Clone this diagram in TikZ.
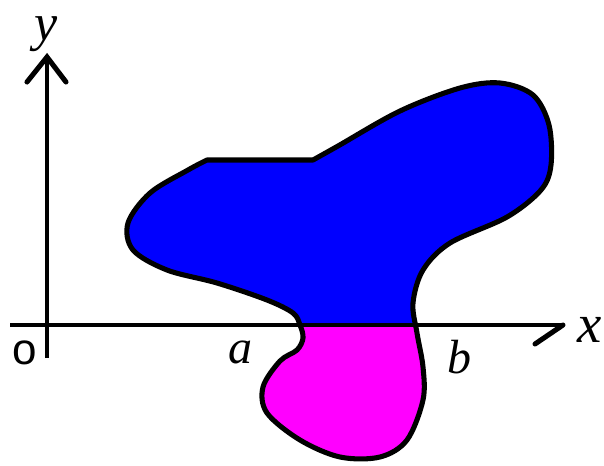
\documentclass[tikz,border=0pt]{standalone}
\usepackage{fontspec}
\setmainfont{Liberation Serif}
\newfontfamily\osans{Liberation Sans}
\definecolor{pureblue}{RGB}{0,0,255}
\definecolor{puremagenta}{RGB}{255,0,255}
\begin{document}
\begin{tikzpicture}[x=0.75pt,y=-0.75pt,
  blob/.style={insert path={plot[smooth,tension=0.55] coordinates{
    (313,160) (338,146) (400,111) (460,88) (500,83) (533,95) (549,125) (551,165)
    (541,190) (507,217) (450,243) (423,270) (413,303) (417,333) (423,367) (423,400)
    (407,440) (380,457) (340,457) (300,440) (267,413) (263,387) (280,361) (297,350)
    (303,338) (300,325) (293,313) (267,300) (217,283) (167,270) (133,250) (128,223)
    (150,193) (188,170) (207,160)} -- cycle}},
  axisline/.style={line width=2.4pt},
  barb/.style={line width=3.8pt,line cap=round},
  biglbl/.style={inner sep=0pt,font=\fontsize{41}{48}\selectfont\itshape},
  midlbl/.style={inner sep=0pt,font=\fontsize{36}{42}\selectfont\itshape}]
\useasboundingbox (0,0) rectangle (604,465);
\begin{scope}
  \clip (0,0) rectangle (604,325);
  \fill[pureblue,blob];
\end{scope}
\begin{scope}
  \clip (0,325) rectangle (604,465);
  \fill[puremagenta,blob];
\end{scope}
\draw[line width=3.8pt,line join=round,blob];
% axes
\coordinate (xs) at (10,325);
\coordinate (xe) at (563,325);
\coordinate (xb) at (535,344);
\coordinate (ys) at (47,358);
\coordinate (ye) at (47,57);
\coordinate (yl) at (27,82);
\coordinate (yr) at (66,82);
\draw[axisline] (xs) -- (xe);
\draw[axisline] (ys) -- (ye);
\draw[barb] (xe) -- (xb);
\draw[barb,line join=miter] (yl) -- (ye) -- (yr);
% labels
\node[inner sep=0pt,font=\fontsize{39}{46}\selectfont\itshape] (ylab) at (46,34) {y};
\node[biglbl] (xlab) at (590,330) {x};
\node[midlbl] (alab) at (240,352) {a};
\node[midlbl] (blab) at (459,357) {b};
\node[inner sep=0pt,font=\fontsize{33}{38}\selectfont\osans] (olab) at (25,353) {o};
\end{tikzpicture}
\end{document}
